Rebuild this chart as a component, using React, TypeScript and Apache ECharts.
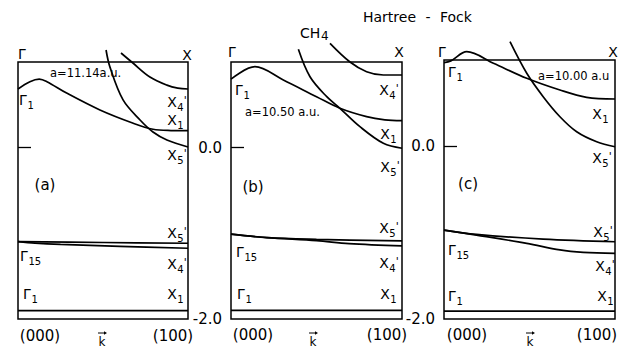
import React, { useEffect, useRef } from "react";
import * as echarts from "echarts";

// k along (000) -> (100), energies in a.u.
// Panel (a) a = 11.14 a.u.
const aGamma1Upper = [[0, 0.685], [0.07, 0.77], [0.125, 0.80], [0.17, 0.77], [0.286, 0.637], [0.482, 0.44], [0.678, 0.285], [0.794, 0.215], [0.9, 0.2], [1.0, 0.198]];
const aX4 = [[0.606, 1.105], [0.676, 0.988], [0.776, 0.825], [0.876, 0.73], [0.94, 0.695], [1.0, 0.685]];
const aX5 = [[0.518, 1.14], [0.541, 0.94], [0.618, 0.557], [0.718, 0.323], [0.794, 0.183], [0.876, 0.09], [1.0, 0.008]];
const aG15Upper = [[0, -1.097], [0.5, -1.107], [1.0, -1.116]];
const aG15Lower = [[0, -1.097], [0.1, -1.115], [0.25, -1.13], [0.6, -1.152], [1.0, -1.174]];
const aGamma1Lower = [[0, -1.902], [1.0, -1.902]];

// Panel (b) a = 10.50 a.u.
const bGamma1Upper = [[0, 0.80], [0.14, 0.945], [0.306, 0.79], [0.5, 0.595], [0.637, 0.46], [0.793, 0.362], [0.9, 0.325], [1.0, 0.315]];
const bX4 = [[0.579, 1.218], [0.696, 1.0], [0.793, 0.887], [0.891, 0.848], [1.0, 0.848]];
const bX5 = [[0.394, 1.148], [0.462, 0.828], [0.56, 0.595], [0.637, 0.46], [0.754, 0.245], [0.891, 0.051], [1.0, -0.007]];
const bG15Upper = [[0, -1.01], [0.21, -1.05], [0.5, -1.07], [1.0, -1.089]];
const bG15Lower = [[0, -1.01], [0.21, -1.05], [0.5, -1.085], [0.69, -1.12], [1.0, -1.147]];
const bGamma1Lower = [[0, -1.9], [1.0, -1.9]];

// Panel (c) a = 10.00 a.u.
const cGamma1Upper = [[0, 0.97], [0.04, 0.99], [0.133, 1.096], [0.289, 0.962], [0.484, 0.788], [0.678, 0.652], [0.834, 0.568], [1.0, 0.548]];
const cX5 = [[0.386, 1.212], [0.484, 0.846], [0.58, 0.575], [0.678, 0.343], [0.776, 0.169], [0.893, 0.053], [1.0, -0.005]];
const cG15Upper = [[0, -0.97], [0.19, -1.02], [0.58, -1.074], [1.0, -1.105]];
const cG15Lower = [[0, -0.97], [0.19, -1.028], [0.484, -1.124], [0.678, -1.2], [0.815, -1.228], [1.0, -1.24]];
const cGamma1Lower = [[0, -1.908], [1.0, -1.908]];

const panelBands = [
  [aGamma1Upper, aX4, aX5, aG15Upper, aG15Lower, aGamma1Lower],
  [bGamma1Upper, bX4, bX5, bG15Upper, bG15Lower, bGamma1Lower],
  [cGamma1Upper, cX5, cG15Upper, cG15Lower, cGamma1Lower],
];

const yMin = -2.0;
const yMax = 1.0;
const yLabelValues = [0, -2];
const yTickValues = [0];
const kLabels = ["(000)", "(100)"];
const latticeLabels = ["a=11.14a.u.", "a=10.50 a.u.", "a=10.00 a.u"];
const panelTags = ["(a)", "(b)", "(c)"];

const FONT = "DejaVu Sans";

function txt(x: number, y: number, text: string, size = 14, align = "center") {
  return {
    type: "text",
    x,
    y,
    style: {
      text,
      fill: "#000",
      font: `${size}px "${FONT}"`,
      align,
      verticalAlign: "middle",
    },
  };
}

// symbol with subscript and optional prime
function sym(x: number, y: number, main: string, sub = "", prime = false) {
  const mainW = main === "X" ? 9.6 : 7.8;
  const els: any[] = [txt(x, y, main, 14)];
  if (sub) {
    const sx = x + mainW / 2 + 0.5;
    els.push(txt(sx, y + 5, sub, 10, "left"));
    if (prime) {
      els.push(txt(sx + sub.length * 6.4, y - 2, "'", 11, "left"));
    }
  }
  return els;
}

// k with vector arrow above
function kVec(x: number) {
  return [
    txt(x, 342, "k", 12),
    { type: "line", shape: { x1: x - 4, y1: 333, x2: x + 3, y2: 333 }, style: { stroke: "#000", lineWidth: 1 } },
    { type: "polygon", shape: { points: [[x + 5, 333], [x + 2, 331.3], [x + 2, 334.7]] }, style: { fill: "#000" } },
  ];
}

export default function App() {
  const ref = useRef<HTMLDivElement>(null);
  useEffect(() => {
    if (!ref.current) return;
    const chart = echarts.init(ref.current, undefined, { renderer: "svg" });
    const grids = [
      { left: 18, top: 62, width: 170, height: 257 },
      { left: 231, top: 62, width: 171, height: 257 },
      { left: 444, top: 60, width: 171, height: 259 },
    ].map((g) => ({ ...g, show: true, borderColor: "#000", borderWidth: 1.5, backgroundColor: "transparent" }));

    const xAxis = grids.map((_, i) => ({
      type: "value",
      gridIndex: i,
      min: 0,
      max: 1,
      show: false,
    }));
    const yAxis = grids.map((_, i) => ({
      type: "value",
      gridIndex: i,
      min: yMin,
      max: yMax,
      axisLine: { show: false },
      splitLine: { show: false },
      axisTick: {
        show: true,
        inside: true,
        length: 13,
        customValues: yTickValues,
        lineStyle: { color: "#000", width: 1.3 },
      },
      axisLabel: {
        show: i > 0,
        customValues: yLabelValues,
        formatter: (v: number) => v.toFixed(1),
        color: "#000",
        fontFamily: FONT,
        fontSize: 15,
        margin: 9,
      },
    }));

    const series: any[] = [];
    panelBands.forEach((bands, p) => {
      bands.forEach((band) => {
        series.push({
          type: "line",
          xAxisIndex: p,
          yAxisIndex: p,
          data: band,
          smooth: 0.35,
          showSymbol: false,
          clip: false,
          lineStyle: { color: "#000", width: 1.7 },
        });
      });
    });

    const g: any[] = [];
    // panel (a)
    g.push(txt(22, 54, "Γ"), txt(187, 55, "X"));
    g.push(txt(50, 73, latticeLabels[0], 11.5, "left"));
    g.push(...sym(23, 100, "Γ", "1"));
    g.push(...sym(172, 102, "X", "4", true));
    g.push(...sym(172, 120, "X", "1"));
    g.push(...sym(172, 155, "X", "5", true));
    g.push(txt(45, 185, panelTags[0], 15));
    g.push(...sym(172, 233, "X", "5", true));
    g.push(...sym(24, 256, "Γ", "15"));
    g.push(...sym(172, 264, "X", "4", true));
    g.push(...sym(27, 294, "Γ", "1"));
    g.push(...sym(172, 294, "X", "1"));
    g.push(txt(40, 336, kLabels[0], 15), txt(173, 336, kLabels[1], 15));
    g.push(...kVec(102));

    // panel (b)
    g.push(txt(232, 52, "Γ"), txt(399, 52, "X"));
    g.push(txt(300, 33, "CH", 14, "left"), txt(321, 36, "4", 12, "left"));
    g.push(txt(363, 17, "Hartree", 14, "left"), txt(428, 17, "-", 14), txt(440, 17, "Fock", 14, "left"));
    g.push(...sym(239, 90, "Γ", "1"));
    g.push(txt(245, 112, latticeLabels[1], 11.5, "left"));
    g.push(...sym(384, 90, "X", "4", true));
    g.push(...sym(385, 134, "X", "1"));
    g.push(...sym(385, 167, "X", "5", true));
    g.push(txt(253, 187, panelTags[1], 15));
    g.push(...sym(384, 228, "X", "5", true));
    g.push(...sym(240, 252, "Γ", "15"));
    g.push(...sym(384, 263, "X", "4", true));
    g.push(...sym(241, 294, "Γ", "1"));
    g.push(...sym(385, 294, "X", "1"));
    g.push(txt(253, 335, kLabels[0], 15), txt(387, 335, kLabels[1], 15));
    g.push(...kVec(313));

    // panel (c)
    g.push(txt(442, 52, "Γ"), txt(613, 52, "X"));
    g.push(...sym(452, 72, "Γ", "1"));
    g.push(txt(538, 76, latticeLabels[2], 11.5, "left"));
    g.push(...sym(597, 114, "X", "1"));
    g.push(...sym(597, 158, "X", "5", true));
    g.push(txt(468, 184, panelTags[2], 15));
    g.push(...sym(598, 232, "X", "5", true));
    g.push(...sym(452, 250, "Γ", "15"));
    g.push(...sym(600, 266, "X", "4", true));
    g.push(...sym(452, 296, "Γ", "1"));
    g.push(...sym(602, 296, "X", "1"));
    g.push(txt(467, 335, kLabels[0], 15), txt(597, 335, kLabels[1], 15));
    g.push(...kVec(530));

    chart.setOption({
      animation: false,
      backgroundColor: "#fff",
      grid: grids,
      xAxis,
      yAxis,
      series,
      graphic: g,
    });
    return () => chart.dispose();
  }, []);
  return (
    <div
      ref={ref}
      style={{ position: "fixed", left: 0, top: 0, width: 622, height: 350, background: "#fff" }}
    />
  );
}
